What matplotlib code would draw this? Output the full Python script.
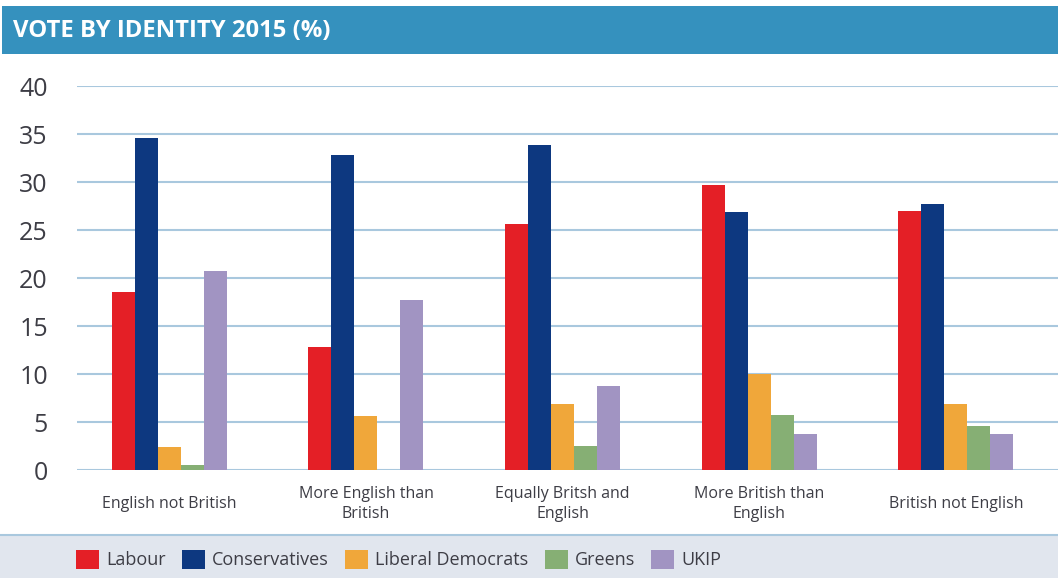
import numpy as np
import matplotlib
matplotlib.use('Agg')
import matplotlib.pyplot as plt
from matplotlib.patches import Rectangle

# Data
categories = ['English not British', 'More English than\nBritish', 'Equally Britsh and\nEnglish',
              'More British than\nEnglish', 'British not English']
parties = ['Labour', 'Conservatives', 'Liberal Democrats', 'Greens', 'UKIP']
labour = [18.5, 12.8, 25.6, 29.7, 27.0]
conservatives = [34.6, 32.8, 33.9, 26.9, 27.7]
lib_dems = [2.4, 5.6, 6.9, 10.0, 6.9]
greens = [0.5, 0.0, 2.5, 5.7, 4.6]
ukip = [20.7, 17.7, 8.8, 3.8, 3.7]
series = [labour, conservatives, lib_dems, greens, ukip]
colors = ['#E41F26', '#0D3880', '#F0A73A', '#86AF74', '#A194C2']

W, H = 1058, 578
fig = plt.figure(figsize=(W / 100, H / 100), dpi=100)
plt.rcParams['font.family'] = ['Open Sans', 'DejaVu Sans']

# Title band
fig.patches.append(Rectangle((2 / W, 1 - 54 / H), 1 - 2 / W, 48 / H, transform=fig.transFigure,
                             facecolor='#3591BE', edgecolor='none', zorder=0))
fig.text(13 / W, 1 - 31 / H, 'VOTE BY IDENTITY 2015 (%)', color='white', fontsize=17.2,
         fontweight='bold', va='center', ha='left')

# Legend band
fig.patches.append(Rectangle((0, 0), 1, 43 / H, transform=fig.transFigure,
                             facecolor='#E1E6EE', edgecolor='none', zorder=0))
fig.lines.append(plt.Line2D([0, 1], [43 / H, 43 / H], transform=fig.transFigure,
                            color='#A9C8DE', linewidth=1.5))

ax = fig.add_axes([77 / W, (H - 470) / H, 1 - 77 / W, (470 - 86) / H])
x = np.arange(len(categories))
bw = 0.117
handles = []
for i, (vals, col) in enumerate(zip(series, colors)):
    b = ax.bar(x + (i - 2) * bw, vals, width=bw, color=col, zorder=3, label=parties[i])
    handles.append(b)

ax.set_xlim(-0.47, 4.52)
ax.set_ylim(0, 40)
ax.set_yticks(range(0, 41, 5))
ax.yaxis.grid(True, color='#A9C8DE', linewidth=1.5, zorder=0)
ax.set_axisbelow(True)
for s in ax.spines.values():
    s.set_visible(False)
ax.tick_params(axis='y', length=0, labelsize=18, labelcolor='#3d3d45', pad=21)
ax.set_xticks(x)
ax.set_xticklabels(categories, fontsize=11.5, color='#3d3d45', linespacing=1.3)
ax.tick_params(axis='x', length=0, pad=24.5)
for lab in ax.get_xticklabels():
    lab.set_verticalalignment('center')
    lab.set_multialignment('center')

fig.legend(handles=handles, labels=parties, loc='center left', bbox_to_anchor=(76 / W, 18.5 / H),
           ncol=5, frameon=False, fontsize=13, handlelength=1.27, handleheight=1.27,
           handletextpad=0.4, columnspacing=0.9, labelcolor='#3d3d45', borderpad=0,
           borderaxespad=0)

fig.savefig('out.png', dpi=100)
